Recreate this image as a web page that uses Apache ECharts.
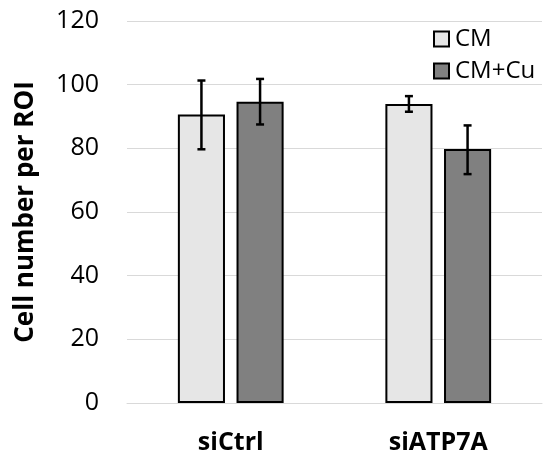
<!DOCTYPE html>
<html><head><meta charset="utf-8">
<script src="https://cdn.jsdelivr.net/npm/echarts@6/dist/echarts.min.js"></script>
<style>html,body{margin:0;padding:0;background:#fff}#c{width:551px;height:459px}</style>
</head><body><div id="c"></div>
<script>
const categories = ['siCtrl', 'siATP7A'];
const seriesNames = ['CM', 'CM+Cu'];
const cmValues = [90.6, 93.9];
const cmErrLow = [79.7, 91.5];
const cmErrHigh = [101.3, 96.4];
const cmCuValues = [94.6, 79.8];
const cmCuErrLow = [87.5, 71.9];
const cmCuErrHigh = [101.8, 87.2];
const yTicks = [0, 20, 40, 60, 80, 100, 120];

const BW = 0.227, GAP = 0.245;
const FONT = '"Open Sans", "Noto Sans", sans-serif';

function errSeries(low, high, sign) {
  return {
    type: 'custom',
    silent: true,
    z: 10,
    data: categories.map((c, i) => [i, low[i], high[i]]),
    renderItem: function (params, api) {
      const i = api.value(0);
      const catW = api.size([1, 0])[0];
      const bw = catW * BW;
      const off = sign * bw * (1 + GAP) / 2;
      const lo = api.coord([i, api.value(1)]);
      const hi = api.coord([i, api.value(2)]);
      const x = lo[0] + off;
      const cap = 4;
      const st = { stroke: '#000', lineWidth: 2.5 };
      return {
        type: 'group',
        children: [
          { type: 'line', shape: { x1: x, y1: lo[1], x2: x, y2: hi[1] }, style: st },
          { type: 'line', shape: { x1: x - cap, y1: lo[1], x2: x + cap, y2: lo[1] }, style: st },
          { type: 'line', shape: { x1: x - cap, y1: hi[1], x2: x + cap, y2: hi[1] }, style: st }
        ]
      };
    },
    encode: { x: 0, y: [1, 2] }
  };
}

const chart = echarts.init(document.getElementById('c'), null, { renderer: 'canvas' });
chart.setOption({
  animation: false,
  grid: { left: 127, right: 9, top: 21, bottom: 56 },
  legend: {
    data: seriesNames,
    orient: 'vertical',
    left: 433,
    top: 27,
    padding: 0,
    itemWidth: 15,
    itemHeight: 15,
    itemGap: 8,
    icon: 'rect',
    textStyle: { fontFamily: FONT, fontSize: 24, color: '#000', padding: [0, 0, 0, 1] }
  },
  xAxis: {
    type: 'category',
    data: categories,
    axisLine: { lineStyle: { color: '#d9d9d9', width: 1 } },
    axisTick: { show: false },
    axisLabel: { fontFamily: FONT, fontSize: 25, fontWeight: 'bold', color: '#000', margin: 27 }
  },
  yAxis: {
    type: 'value',
    min: 0, max: 120, interval: 20,
    name: 'Cell number per ROI',
    nameLocation: 'middle',
    nameGap: 88,
    nameTextStyle: { fontFamily: FONT, fontSize: 26, fontWeight: 'bold', color: '#000' },
    axisLine: { show: false },
    axisTick: { show: false },
    splitLine: { lineStyle: { color: '#d9d9d9', width: 1 } },
    axisLabel: {
      fontFamily: FONT, fontSize: 25, color: '#000', margin: 28,
      formatter: v => yTicks.includes(v) ? String(v) : ''
    }
  },
  series: [
    {
      name: seriesNames[0], type: 'bar', data: cmValues,
      barWidth: (BW * 100) + '%', barGap: (GAP * 100) + '%',
      itemStyle: { color: '#e6e6e6', borderColor: '#000', borderWidth: 2 }
    },
    {
      name: seriesNames[1], type: 'bar', data: cmCuValues,
      barWidth: (BW * 100) + '%', barGap: (GAP * 100) + '%',
      itemStyle: { color: '#808080', borderColor: '#000', borderWidth: 2 }
    },
    errSeries(cmErrLow, cmErrHigh, -1),
    errSeries(cmCuErrLow, cmCuErrHigh, 1)
  ]
});
</script></body></html>
